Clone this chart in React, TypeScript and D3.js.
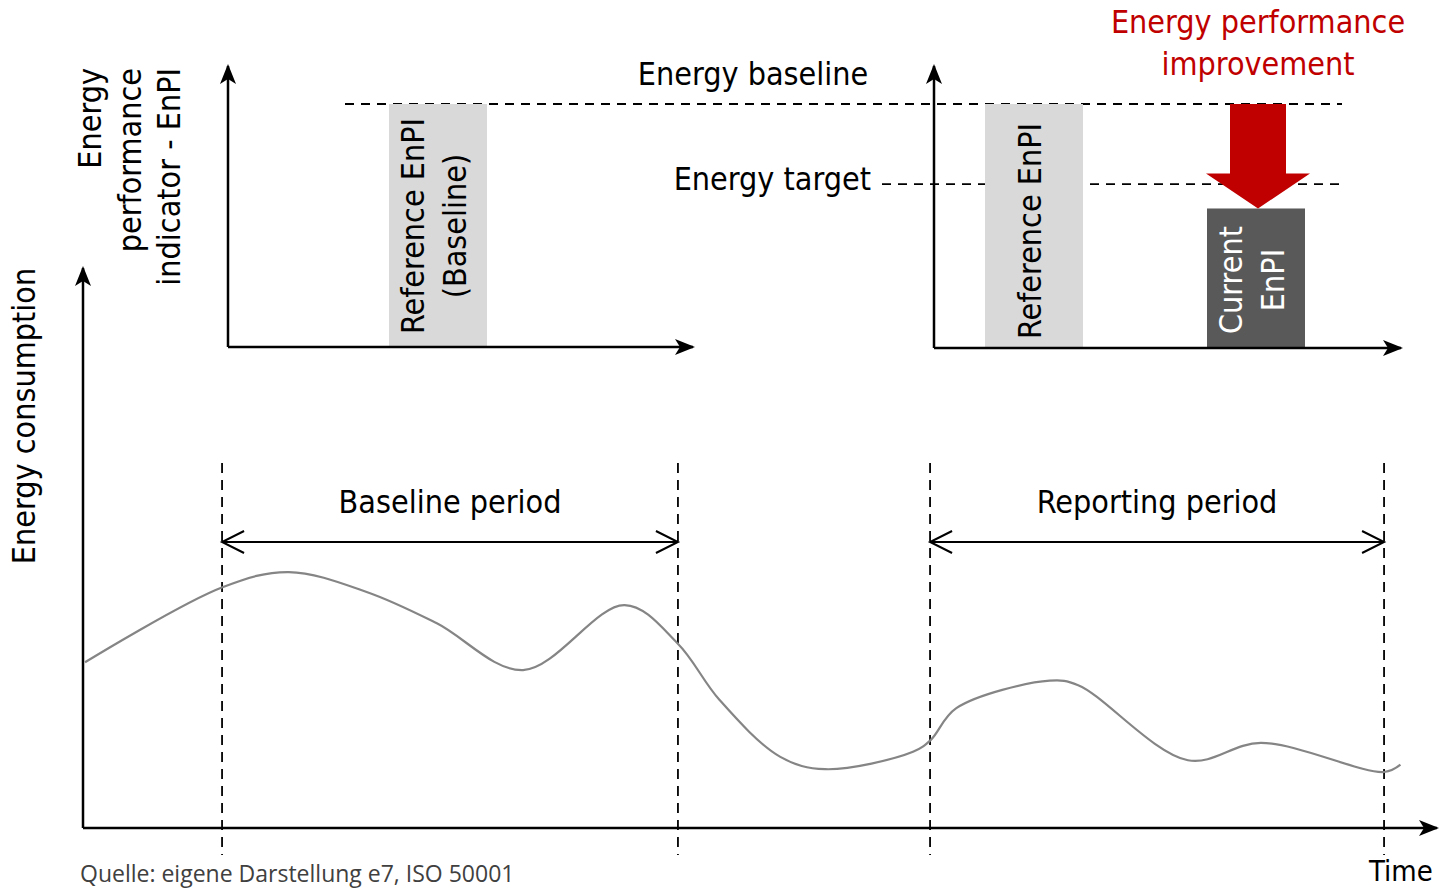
import React from "react";
import * as d3 from "d3";

// energy consumption curve (time in %, consumption in %)
const timeValues = [0.15, 10.3, 15.2, 21.0, 26.1, 32.5, 40.0, 43.9, 47.0, 51.5, 54.8, 61.3, 62.6, 64.5, 71.4, 73.5, 81.6, 87.0, 96.1, 97.3];
const consumptionValues = [29.6, 43.0, 45.7, 42.1, 36.6, 28.2, 39.8, 33.0, 22.9, 12.7, 10.5, 13.6, 15.7, 21.4, 26.3, 25.5, 12.1, 15.2, 10.0, 11.3];

// period boundaries (time)
const periodNames = ["Baseline period", "Reporting period"];
const periodStarts = [10.27, 62.56];
const periodEnds = [43.94, 96.09];

// EnPI panels
const baselineValue = 100;
const targetValue = 67;
const leftBarLabels = [["Reference EnPI", "(Baseline)"]];
const leftBarValues = [100];
const rightBarLabels = [["Reference EnPI"], ["Current", "EnPI"]];
const rightBarValues = [100, 57];
const enpiAxisLabel = ["Energy", "performance", "indicator - EnPI"];

const W = 1439;
const H = 890;
const FONT = "'DejaVu Sans Condensed', 'DejaVu Sans', sans-serif";
const FS = 32;

const x = d3.scaleLinear().domain([0, 100]).range([83, 1437]);
const y = d3.scaleLinear().domain([0, 100]).range([828, 268]);
const enpiY = d3.scaleLinear().domain([0, 100]).range([347, 104]);
const leftX = d3.scaleLinear().domain([0, 1]).range([389, 487]);
const rightX = d3.scalePoint<number>().domain([0, 1]).range([985, 1207]);
const barW = 98;

const line = d3
  .line<number>()
  .x((_, i) => x(timeValues[i]))
  .y((d) => y(d))
  .curve(d3.curveCatmullRom.alpha(0.5));

const App = () => {
  const chevron = (cx: number, cy: number, dir: number) =>
    `M${cx + dir * 22},${cy - 11} L${cx},${cy} L${cx + dir * 22},${cy + 11}`;

  const barText = (bx: number, lines: string[], cy: number, fill: string) =>
    lines.map((l, j) => (
      <text
        key={j}
        transform={`translate(${bx + barW / 2 + 7 + (j - (lines.length - 1) / 2) * 42},${cy}) rotate(-90)`}
        textAnchor="middle"
        fontFamily={FONT}
        fontSize={FS}
        fill={fill}
      >
        {l}
      </text>
    ));

  return (
    <div style={{ position: "absolute", left: 0, top: 0 }}>
      <svg width={W} height={H} viewBox={`0 0 ${W} ${H}`} style={{ display: "block", background: "#fff" }}>
        <defs>
          <marker id="ah" viewBox="0 0 20 16" refX="18" refY="8" markerWidth="20" markerHeight="16" markerUnits="userSpaceOnUse" orient="auto">
            <path d="M0,0 L20,8 L0,16 L5,8 Z" fill="#000" />
          </marker>
        </defs>

        {/* main axes */}
        <line x1={x(0)} y1={y(0)} x2={x(0)} y2={268} stroke="#000" strokeWidth={2.5} markerEnd="url(#ah)" />
        <line x1={x(0)} y1={y(0)} x2={1437} y2={y(0)} stroke="#000" strokeWidth={2.5} markerEnd="url(#ah)" />
        <text transform={`translate(35,416) rotate(-90)`} textAnchor="middle" fontFamily={FONT} fontSize={FS}>
          Energy consumption
        </text>
        <text x={1369} y={881} fontFamily={FONT} fontSize={29}>Time</text>

        {/* period boundaries */}
        {[...periodStarts, ...periodEnds].map((t, i) => (
          <line key={i} x1={x(t)} x2={x(t)} y1={463} y2={855} stroke="#000" strokeWidth={1.8} strokeDasharray="10,7" />
        ))}
        {periodNames.map((name, i) => {
          const a = x(periodStarts[i]);
          const b = x(periodEnds[i]);
          const cy = 542;
          return (
            <g key={name}>
              <line x1={a} x2={b} y1={cy} y2={cy} stroke="#000" strokeWidth={2} />
              <path d={chevron(a, cy, 1)} fill="none" stroke="#000" strokeWidth={2} />
              <path d={chevron(b, cy, -1)} fill="none" stroke="#000" strokeWidth={2} />
              <text x={(a + b) / 2} y={513} textAnchor="middle" fontFamily={FONT} fontSize={FS}>{name}</text>
            </g>
          );
        })}

        {/* consumption curve */}
        <path d={line(consumptionValues) || ""} fill="none" stroke="#858585" strokeWidth={2.2} />

        {/* EnPI dashed references */}
        <line x1={345} x2={1342} y1={enpiY(baselineValue)} y2={enpiY(baselineValue)} stroke="#000" strokeWidth={1.8} strokeDasharray="9,7" />
        <line x1={882} x2={1342} y1={enpiY(targetValue)} y2={enpiY(targetValue)} stroke="#000" strokeWidth={1.8} strokeDasharray="9,7" />
        <text x={753} y={85} textAnchor="middle" fontFamily={FONT} fontSize={FS}>Energy baseline</text>
        <text x={871} y={190} textAnchor="end" fontFamily={FONT} fontSize={FS}>Energy target</text>

        {/* left panel */}
        {leftBarValues.map((v, i) => (
          <g key={i}>
            <rect x={leftX(i)} y={enpiY(v)} width={barW} height={enpiY(0) - enpiY(v)} fill="#d9d9d9" />
            {barText(leftX(i), leftBarLabels[i], 226, "#000")}
          </g>
        ))}
        <line x1={228} y1={enpiY(0)} x2={228} y2={66} stroke="#000" strokeWidth={2.5} markerEnd="url(#ah)" />
        <line x1={228} y1={enpiY(0)} x2={693} y2={enpiY(0)} stroke="#000" strokeWidth={2.5} markerEnd="url(#ah)" />
        {enpiAxisLabel.map((l, j) => (
          <text key={j} transform={`translate(${101 + j * 39.5},68) rotate(-90)`} textAnchor="end" fontFamily={FONT} fontSize={FS}>{l}</text>
        ))}

        {/* right panel */}
        {rightBarValues.map((v, i) => {
          const bx = rightX(i)!;
          const dark = i === 1;
          return (
            <g key={i}>
              <rect x={bx} y={enpiY(v)} width={barW} height={enpiY(0) - enpiY(v)} fill={dark ? "#595959" : "#d9d9d9"} />
              {barText(bx, rightBarLabels[i], dark ? 280 : 231, dark ? "#fff" : "#000")}
            </g>
          );
        })}
        <line x1={934} y1={enpiY(0) + 1} x2={934} y2={66} stroke="#000" strokeWidth={2.5} markerEnd="url(#ah)" />
        <line x1={934} y1={enpiY(0) + 1} x2={1401} y2={enpiY(0) + 1} stroke="#000" strokeWidth={2.5} markerEnd="url(#ah)" />

        {/* improvement arrow */}
        {(() => {
          const cx = rightX(1)! + barW / 2 + 2;
          const top = enpiY(baselineValue);
          const tip = enpiY(rightBarValues[1]);
          const neck = tip - 35;
          return (
            <path
              d={`M${cx - 28},${top} L${cx + 28},${top} L${cx + 28},${neck} L${cx + 52},${neck} L${cx},${tip} L${cx - 52},${neck} L${cx - 28},${neck} Z`}
              fill="#c00000"
            />
          );
        })()}
        <text x={1258} y={33} textAnchor="middle" fontFamily={FONT} fontSize={FS} fill="#c00000">Energy performance</text>
        <text x={1258} y={75} textAnchor="middle" fontFamily={FONT} fontSize={FS} fill="#c00000">improvement</text>

        <text x={80} y={882} fontFamily="'Open Sans', sans-serif" fontSize={23} fill="#404040">
          Quelle: eigene Darstellung e7, ISO 50001
        </text>
      </svg>
    </div>
  );
};

export default App;
